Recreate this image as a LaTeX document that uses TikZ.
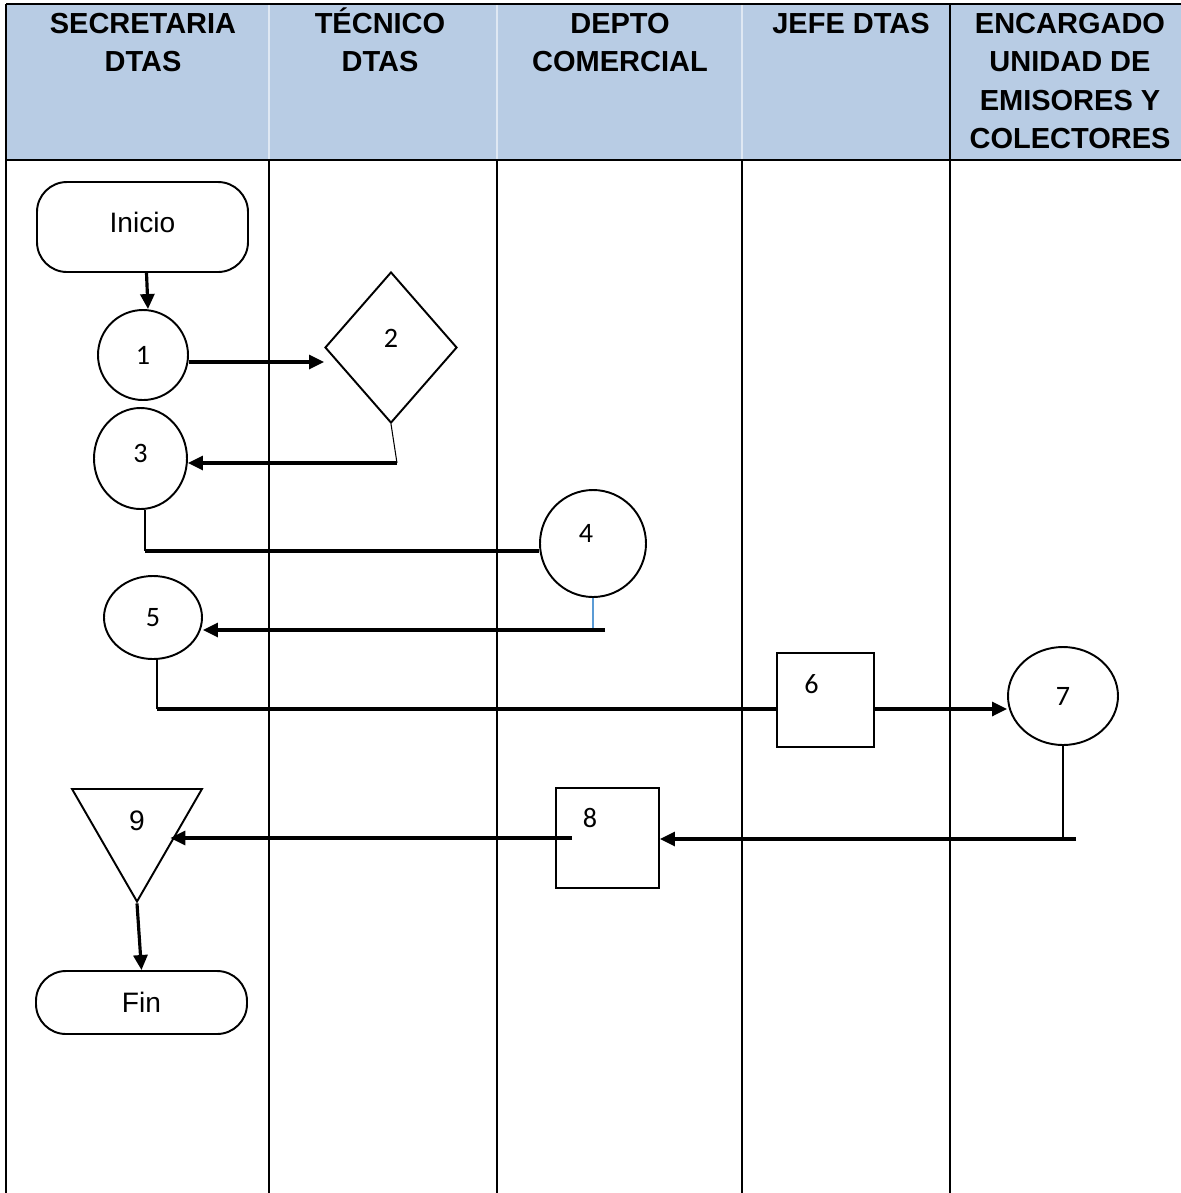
\documentclass[tikz,border=0pt]{standalone}
\usepackage{fontspec}
\setmainfont{Liberation Sans}
\newfontfamily\numfont{Carlito}
\usetikzlibrary{arrows.meta,shapes.geometric,calc}
\definecolor{hdrblue}{RGB}{184,204,228}
\definecolor{tieblue}{RGB}{91,155,213}

\begin{document}
\begin{tikzpicture}[x=0.2mm,y=-0.2mm,
    head/.style={anchor=north,align=center,inner sep=0pt,font=\fontsize{16.5}{21.9}\selectfont\bfseries},
    shp/.style={draw,line width=1.1pt,inner sep=0pt},
    term/.style={shp,rectangle,rounded corners=6mm,minimum width=42.2mm,font=\fontsize{16}{19}\selectfont},
    num/.style={font=\numfont\fontsize{16}{19}\selectfont},
    flow/.style={line width=1.8pt,-{Triangle[length=3mm,width=2.8mm]}},
    bar/.style={line width=1.8pt},
    tie/.style={line width=0.6pt}]
  \useasboundingbox (0,0) rectangle (1181,1193);
  \fill[hdrblue] (6,4) rectangle (1181,160);
  \foreach \x in {269,497,742}
    \draw[white!55!hdrblue,line width=0.6pt] (\x,4) -- (\x,160);
  \foreach \x in {269,497,742}
    \draw[line width=0.6pt] (\x,160) -- (\x,1193);
  \draw[line width=0.6pt] (6,4) -- (6,1193);
  \draw[line width=1.1pt] (950,4) -- (950,1193);
  \draw[line width=0.8pt] (6,4) -- (1181,4);
  \draw[line width=1.1pt] (6,160) -- (1181,160);

  \node[head] (hsec) at (143,6) {\strut SECRETARIA\\DTAS};
  \node[head] (htec) at (380,6) {\strut TÉCNICO\\DTAS};
  \node[head] (hcom) at (620,6) {\strut DEPTO\\COMERCIAL};
  \node[head] (hjef) at (851,6) {\strut JEFE DTAS};
  \node[head] (henc) at (1070,6) {\strut ENCARGADO\\UNIDAD DE\\EMISORES Y\\COLECTORES};

  \node[term,minimum height=18mm,text depth=1.8mm] (ini) at (142.5,227) {Inicio};
  \node[shp,ellipse,minimum width=18mm,minimum height=18mm,num] (c1) at (143,355) {1};
  \node[shp,diamond,minimum width=26.4mm,minimum height=30.2mm,label={[num,yshift=1.8mm]center:2}] (d2) at (391,347.5) {};
  \node[shp,ellipse,minimum width=18.6mm,minimum height=20.2mm,label={[num,yshift=1mm]center:3}] (c3) at (140.5,458.5) {};
  \node[shp,ellipse,minimum width=21.2mm,minimum height=21.4mm,label={[num,xshift=-1.4mm,yshift=2mm]center:4}] (c4) at (593,543.5) {};
  \node[shp,ellipse,minimum width=19.6mm,minimum height=16.6mm,num] (c5) at (153,617.5) {5};
  \node[shp,rectangle,minimum width=19.4mm,minimum height=18.8mm,label={[num,xshift=-2.8mm,yshift=3.2mm]center:6}] (r6) at (825.5,700) {};
  \node[shp,ellipse,minimum width=22mm,minimum height=19.6mm,num] (c7) at (1063,696) {7};
  \node[shp,rectangle,minimum width=20.6mm,minimum height=20mm,label={[num,xshift=-3.5mm,yshift=4mm]center:8}] (r8) at (607.5,838) {};
  \node[shp,regular polygon,regular polygon sides=3,shape border rotate=180,minimum size=30mm,label={[font=\fontsize{16}{19}\selectfont,yshift=1.2mm]center:9}] (t9) at (137,826.5) {};
  \node[term,minimum height=12.6mm] (fin) at (141.5,1002.5) {Fin};

  \coordinate (k2) at (397,463);
  \coordinate (k3) at (145,551);
  \coordinate (k4) at (605,630);
  \coordinate (k5) at (157,709);
  \coordinate (k7) at (1076,839);
  \coordinate (k8) at (572,838);

  \draw[flow] ([xshift=0.8mm]ini.south) -- ([xshift=1mm]c1.north);
  \draw[flow] ([yshift=-1.4mm]c1.east) -- ([yshift=-1.4mm]c1.east -| d2.west);
  \draw[tie] (d2.south) -- (k2);
  \draw[flow] (k2) -- (k2 -| c3.east);
  \draw[tie] (c3.south -| k3) -- (k3);
  \draw[bar] (k3) -- (k3 -| c4.west);
  \draw[tie,tieblue] (c4.south) -- (c4.south |- k4);
  \draw[flow] (k4) -- (k4 -| c5.east);
  \draw[tie] (c5.south -| k5) -- (k5);
  \draw[bar] (k5) -- (k5 -| r6.west);
  \draw[flow] ([yshift=-1.8mm]r6.east) -- ([yshift=-1.8mm]r6.east -| c7.west);
  \draw[tie] (c7.south) -- (c7.south |- k7);
  \draw[flow] (k7) -- (k7 -| r8.east);
  \draw[flow] (k8) -- (k8 -| t9.side 1);
  \draw[flow] (t9.corner 1) -- (fin.north);
\end{tikzpicture}
\end{document}
